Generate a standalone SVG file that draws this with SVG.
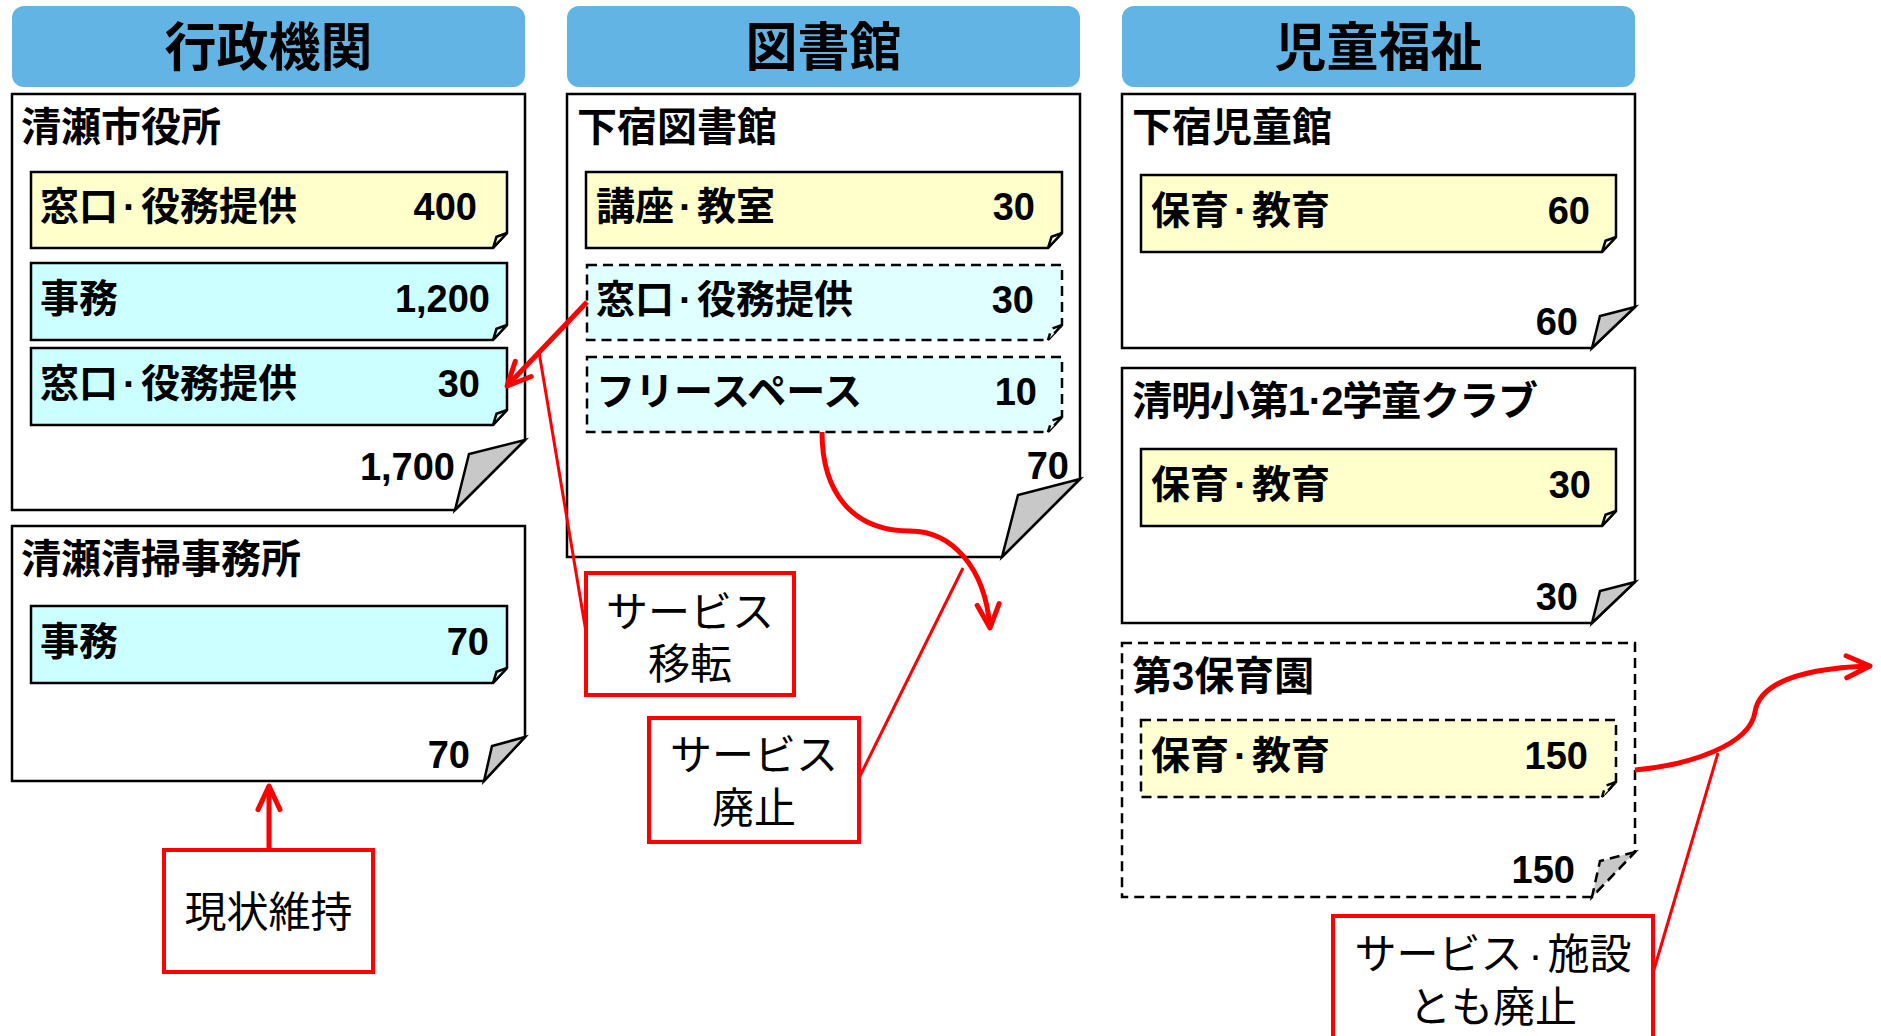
<svg xmlns="http://www.w3.org/2000/svg" width="1881" height="1036" viewBox="0 0 1881 1036">
<style>
  text { font-family: "Liberation Sans", "Noto Sans CJK JP", sans-serif; fill: #000; }
  .hdr { fill: #62B4E4; }
  .htxt { font-size: 52px; font-weight: bold; text-anchor: middle; }
  .card { fill: #fff; stroke: #000; stroke-width: 2.5; stroke-linejoin: miter; }
  .dash { stroke-dasharray: 10 6; }
  .fold { fill: #C8C8C8; stroke: #000; stroke-width: 2.5; stroke-linejoin: miter; }
  .ttl { font-size: 40px; font-weight: bold; }
  .lbl { font-size: 39px; font-weight: bold; }
  .num { font-size: 38px; font-weight: bold; text-anchor: end; }
  .yel { fill: #FFFFCC; stroke: #000; stroke-width: 2.5; }
  .cyn { fill: #CCFFFF; stroke: #000; stroke-width: 2.5; }
  .lcyn { fill: #E0FFFF; stroke: #000; stroke-width: 2.5; }
  .lyel { fill: #FFFFD2; stroke: #000; stroke-width: 2.5; }
  .callout { fill: #fff; stroke: #FF0000; stroke-width: 4; }
  .ctxt { font-size: 42px; font-weight: normal; text-anchor: middle; }
  .thick { fill: none; stroke: #FF0000; stroke-width: 5; }
  .thin { fill: none; stroke: #FF0000; stroke-width: 3; }
</style>
<defs>
  <marker id="ah" markerUnits="userSpaceOnUse" markerWidth="40" markerHeight="40" refX="0" refY="0" orient="auto" overflow="visible">
    <path d="M-23.6,-11 L0,0 L-23.6,11" fill="none" stroke="#FF0000" stroke-width="5" stroke-linecap="round" stroke-linejoin="round"/>
  </marker>
</defs>

<!-- Column headers -->
<g id="header-gyosei">
  <rect class="hdr" x="12" y="6" width="513" height="81" rx="12"/>
  <text class="htxt" x="268.5" y="66">行政機関</text>
</g>
<g id="header-toshokan">
  <rect class="hdr" x="567" y="6" width="513" height="81" rx="12"/>
  <text class="htxt" x="823.5" y="66">図書館</text>
</g>
<g id="header-jido">
  <rect class="hdr" x="1122" y="6" width="513" height="81" rx="12"/>
  <text class="htxt" x="1378.5" y="66">児童福祉</text>
</g>

<!-- Column 1 -->
<g id="kiyose-shiyakusho">
  <polygon class="card" points="12,94 525,94 525,440 455,510 12,510"/>
  <polygon class="fold" points="525,440 469,454 455,510"/>
  <text class="ttl" x="21" y="141">清瀬市役所</text>
  <g id="s1-madoguchi">
    <polygon class="yel" points="31,172 507,172 507,233 493,248 31,248"/>
    <polygon class="yel" points="507,233 496.5,236.8 493,248"/>
    <text class="lbl" x="40" y="220">窓口<tspan dx="5">·</tspan><tspan dx="5">役務提供</tspan></text>
    <text class="num" x="477" y="220">400</text>
  </g>
  <g id="s1-jimu">
    <polygon class="cyn" points="31,263 507,263 507,325 493,340 31,340"/>
    <polygon class="cyn" points="507,325 496.5,328.8 493,340"/>
    <text class="lbl" x="40" y="312">事務</text>
    <text class="num" x="490" y="312">1,200</text>
  </g>
  <g id="s1-madoguchi2">
    <polygon class="cyn" points="31,348 507,348 507,410 493,425 31,425"/>
    <polygon class="cyn" points="507,410 496.5,413.8 493,425"/>
    <text class="lbl" x="40" y="397">窓口<tspan dx="5">·</tspan><tspan dx="5">役務提供</tspan></text>
    <text class="num" x="480" y="397">30</text>
  </g>
  <text class="num" x="455" y="480">1,700</text>
</g>

<g id="kiyose-seiso">
  <polygon class="card" points="12,526 525,526 525,737 484,781 12,781"/>
  <polygon class="fold" points="525,737 492,746 484,781"/>
  <text class="ttl" x="21" y="573">清瀬清掃事務所</text>
  <g id="s2-jimu">
    <polygon class="cyn" points="31,606 507,606 507,668 493,683 31,683"/>
    <polygon class="cyn" points="507,668 496.5,671.8 493,683"/>
    <text class="lbl" x="40" y="655">事務</text>
    <text class="num" x="489" y="655">70</text>
  </g>
  <text class="num" x="470" y="768">70</text>
</g>

<!-- Column 2 -->
<g id="shimojuku-toshokan">
  <polygon class="card" points="567,94 1080,94 1080,479 1002,557 567,557"/>
  <polygon class="fold" points="1080,479 1018,495 1002,557"/>
  <text class="ttl" x="577" y="141">下宿図書館</text>
  <g id="s3-koza">
    <polygon class="yel" points="586,172 1062,172 1062,233 1048,248 586,248"/>
    <polygon class="yel" points="1062,233 1051.5,236.8 1048,248"/>
    <text class="lbl" x="596" y="220">講座<tspan dx="5">·</tspan><tspan dx="5">教室</tspan></text>
    <text class="num" x="1035" y="220">30</text>
  </g>
  <g id="s3-madoguchi">
    <polygon class="lcyn dash" points="587,265 1062,265 1062,325 1048,340 587,340"/>
    <polygon class="lcyn dash" points="1062,325 1051.5,328.8 1048,340"/>
    <text class="lbl" x="596" y="313">窓口<tspan dx="5">·</tspan><tspan dx="5">役務提供</tspan></text>
    <text class="num" x="1034" y="313">30</text>
  </g>
  <g id="s3-free">
    <polygon class="lcyn dash" points="587,357 1062,357 1062,417 1048,432 587,432"/>
    <polygon class="lcyn dash" points="1062,417 1051.5,420.8 1048,432"/>
    <text class="lbl" x="596" y="405">フリースペース</text>
    <text class="num" x="1037" y="405">10</text>
  </g>
  <text class="num" x="1069" y="479">70</text>
</g>

<!-- Column 3 -->
<g id="shimojuku-jidokan">
  <polygon class="card" points="1122,94 1635,94 1635,307 1592,348 1122,348"/>
  <polygon class="fold" points="1635,307 1600,316 1592,348"/>
  <text class="ttl" x="1132" y="141">下宿児童館</text>
  <g id="s4-hoiku">
    <polygon class="yel" points="1141,175 1616,175 1616,237 1602,252 1141,252"/>
    <polygon class="yel" points="1616,237 1605.5,240.8 1602,252"/>
    <text class="lbl" x="1151" y="224">保育<tspan dx="5">·</tspan><tspan dx="5">教育</tspan></text>
    <text class="num" x="1590" y="224">60</text>
  </g>
  <text class="num" x="1578" y="335">60</text>
</g>

<g id="seimei-gakudo">
  <polygon class="card" points="1122,368 1635,368 1635,582 1592,623 1122,623"/>
  <polygon class="fold" points="1635,582 1600,591 1592,623"/>
  <text class="ttl" x="1132" y="415" textLength="406" lengthAdjust="spacing">清明小第1·2学童クラブ</text>
  <g id="s5-hoiku">
    <polygon class="yel" points="1141,449 1616,449 1616,511 1602,526 1141,526"/>
    <polygon class="yel" points="1616,511 1605.5,514.8 1602,526"/>
    <text class="lbl" x="1151" y="498">保育<tspan dx="5">·</tspan><tspan dx="5">教育</tspan></text>
    <text class="num" x="1591" y="498">30</text>
  </g>
  <text class="num" x="1578" y="610">30</text>
</g>

<g id="dai3-hoikuen">
  <polygon class="card dash" points="1122,643 1635,643 1635,852 1592,897 1122,897"/>
  <polygon class="fold dash" points="1635,852 1600,861 1592,897"/>
  <text class="ttl" x="1132" y="690">第3保育園</text>
  <g id="s6-hoiku">
    <polygon class="lyel dash" points="1141,720 1616,720 1616,782 1602,797 1141,797"/>
    <polygon class="lyel dash" points="1616,782 1605.5,785.8 1602,797"/>
    <text class="lbl" x="1151" y="769">保育<tspan dx="5">·</tspan><tspan dx="5">教育</tspan></text>
    <text class="num" x="1588" y="769">150</text>
  </g>
  <text class="num" x="1575" y="883">150</text>
</g>

<!-- Callouts -->
<g id="callout-iten">
  <rect class="callout" x="586" y="573" width="208" height="122"/>
  <text class="ctxt" x="690" y="627">サービス</text>
  <text class="ctxt" x="690" y="679">移転</text>
</g>
<g id="callout-haishi">
  <rect class="callout" x="649" y="718" width="210" height="124"/>
  <text class="ctxt" x="754" y="770">サービス</text>
  <text class="ctxt" x="754" y="823">廃止</text>
</g>
<g id="callout-iji">
  <rect class="callout" x="164" y="850" width="209" height="122"/>
  <text class="ctxt" x="268.5" y="927">現状維持</text>
</g>
<g id="callout-shisetsu">
  <rect class="callout" x="1333" y="916" width="320" height="140"/>
  <text class="ctxt" x="1493" y="969">サービス<tspan dx="6">·</tspan><tspan dx="5">施設</tspan></text>
  <text class="ctxt" x="1493" y="1022">とも廃止</text>
</g>

<!-- Connectors -->
<g id="connectors">
  <line class="thick" x1="587" y1="302" x2="507" y2="386" marker-end="url(#ah)"/>
  <line class="thin" x1="539" y1="352" x2="586" y2="632"/>
  <path class="thick" d="M822,432 C822,492 852,531 910,531 C950,531 985,565 990,628" marker-end="url(#ah)"/>
  <line class="thin" x1="963" y1="568" x2="859" y2="778"/>
  <line class="thick" x1="269" y1="850" x2="269" y2="786" marker-end="url(#ah)"/>
  <path class="thick" d="M1635,770 C1690,765 1750,745 1755,712 C1760,680 1810,668 1870,666" marker-end="url(#ah)"/>
  <line class="thin" x1="1718" y1="753" x2="1653" y2="973"/>
</g>
</svg>
